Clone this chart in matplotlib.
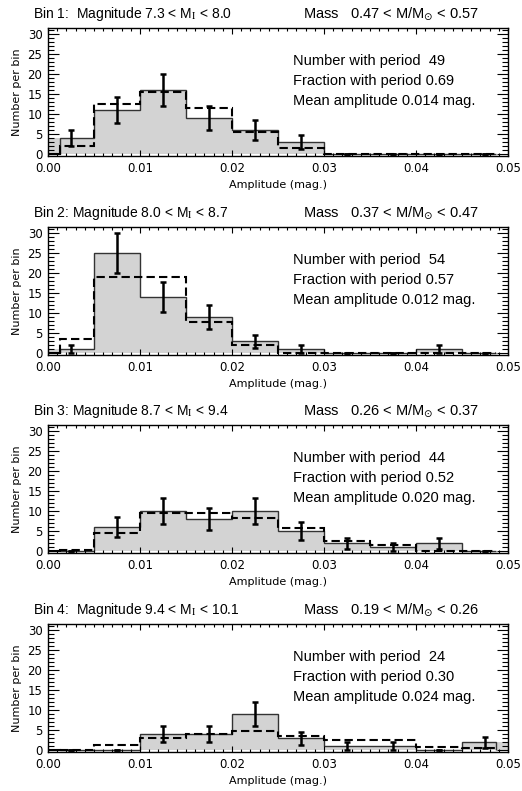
import numpy as np
import matplotlib.pyplot as plt
from matplotlib.ticker import MultipleLocator, FormatStrFormatter

# Histogram bins in amplitude (mag.)
edges = np.arange(0, 0.0501, 0.005)
centers = edges[:-1] + 0.0025

# Panel titles
mag_titles = ["Bin 1:  Magnitude 7.3 < M$_\\mathrm{I}$ < 8.0",
              "Bin 2: Magnitude 8.0 < M$_\\mathrm{I}$ < 8.7",
              "Bin 3: Magnitude 8.7 < M$_\\mathrm{I}$ < 9.4",
              "Bin 4:  Magnitude 9.4 < M$_\\mathrm{I}$ < 10.1"]
mass_titles = ["Mass   0.47 < M/M$_{\\odot}$ < 0.57",
               "Mass   0.37 < M/M$_{\\odot}$ < 0.47",
               "Mass   0.26 < M/M$_{\\odot}$ < 0.37",
               "Mass   0.19 < M/M$_{\\odot}$ < 0.26"]
n_period = [49, 54, 44, 24]
frac_period = ["0.69", "0.57", "0.52", "0.30"]
mean_amp = ["0.014", "0.012", "0.020", "0.024"]

# Observed counts per bin (solid, filled)
counts_1 = [4, 11, 16, 9, 6, 3, 0, 0, 0, 0]
counts_2 = [1, 25, 14, 9, 3, 1, 0, 0, 1, 0]
counts_3 = [0, 6, 10, 8, 10, 5, 2, 1, 2, 0]
counts_4 = [0, 0, 4, 4, 9, 3, 1, 1, 0, 2]

# Error bars (half length)
err_1 = [2.0, 3.3, 4.0, 3.0, 2.45, 1.7, 0, 0, 0, 0]
err_2 = [1.0, 5.0, 3.7, 3.0, 1.7, 1.0, 0, 0, 1.0, 0]
err_3 = [0, 2.45, 3.2, 2.8, 3.2, 2.2, 1.4, 1.0, 1.4, 0]
err_4 = [0, 0, 2.0, 2.0, 3.0, 1.7, 1.0, 1.0, 0, 1.4]

# Comparison histogram (dashed)
dashed_1 = [2.0, 12.5, 15.5, 11.5, 5.5, 1.5, 0, 0, 0, 0]
dashed_2 = [3.5, 19.0, 19.0, 7.7, 2.0, 0, 0, 0, 0, 0]
dashed_3 = [0.4, 4.6, 9.5, 9.6, 8.3, 5.8, 2.6, 1.6, 0.1, 0]
dashed_4 = [0, 1.4, 3.1, 4.0, 4.8, 3.6, 2.5, 2.5, 0.9, 0.7]

counts = [counts_1, counts_2, counts_3, counts_4]
errs = [err_1, err_2, err_3, err_4]
dashed = [dashed_1, dashed_2, dashed_3, dashed_4]

# outline starts/ends a quarter bin inside the range (as in the original)
edges_line = edges.copy()
edges_line[0] = edges[0] + 0.00125
edges_line[-1] = edges[-1] - 0.00125

fig = plt.figure(figsize=(5.22, 7.91), dpi=100)
bottoms = [0.8028, 0.5512, 0.3009, 0.0493]

for i in range(4):
    ax = fig.add_axes([0.092, bottoms[i], 0.881, 0.162])
    ax.stairs(counts[i], edges, fill=True, color='#d3d3d3', lw=0)
    ax.stairs(counts[i], edges_line, color='#333333', lw=1.0)
    ax.plot([edges[0], edges_line[0]], [0, 0], color='k', lw=1.5)
    ax.stairs(dashed[i], edges_line, color='k', lw=1.5, ls=(0, (4, 2)))
    ax.errorbar(centers, counts[i], yerr=errs[i], fmt='none', ecolor='k',
                elinewidth=1.8, capsize=2.2, capthick=1.8)

    ax.set_xlim(0, 0.05)
    ax.set_ylim(-0.4, 31.5)
    ax.xaxis.set_major_locator(MultipleLocator(0.01))
    ax.xaxis.set_minor_locator(MultipleLocator(0.001))
    ax.yaxis.set_major_locator(MultipleLocator(5))
    ax.yaxis.set_minor_locator(MultipleLocator(1))
    ax.xaxis.set_major_formatter(FormatStrFormatter('%.2f'))
    ax.tick_params(which='both', direction='in', top=True, right=True,
                   labelsize=8.5, width=0.8, pad=4)
    ax.tick_params(which='major', axis='y', length=8)
    ax.tick_params(which='minor', axis='y', length=4)
    ax.tick_params(which='major', axis='x', length=4)
    ax.tick_params(which='minor', axis='x', length=2)
    for sp in ax.spines.values():
        sp.set_linewidth(1.0)

    ax.set_xlabel("Amplitude (mag.)", fontsize=8, labelpad=4)
    ax.set_ylabel("Number per bin", fontsize=8, labelpad=4)

    ax.text(-0.033, 1.11, mag_titles[i], transform=ax.transAxes,
            fontsize=10, family='Liberation Sans', va='center', ha='left',
            math_fontfamily='stix')
    ax.text(0.554, 1.11, mass_titles[i], transform=ax.transAxes,
            fontsize=10.5, family='Liberation Sans', va='center', ha='left',
            math_fontfamily='dejavusans')

    stats = ["Number with period  %d" % n_period[i],
             "Fraction with period " + frac_period[i],
             "Mean amplitude " + mean_amp[i] + " mag."]
    for k, line in enumerate(stats):
        ax.text(0.533, 0.742 - 0.156 * k, line, transform=ax.transAxes,
                fontsize=10.5, family='Liberation Sans', va='center', ha='left')

fig.savefig("out.png", dpi=100)
